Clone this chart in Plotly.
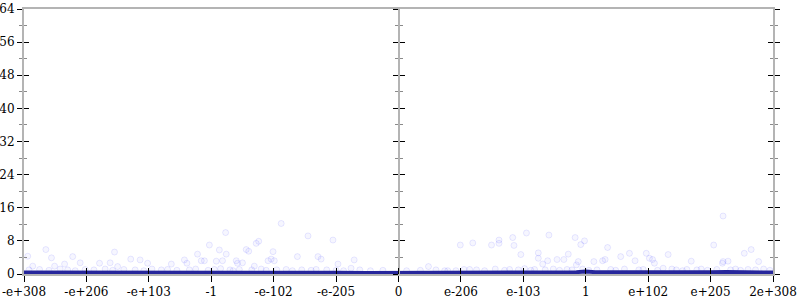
import plotly.graph_objects as go

# x positions are in "tick units" (one unit per labelled tick), y values are the plotted quantity
tick_positions = [-6, -5, -4, -3, -2, -1, 0, 1, 2, 3, 4, 5, 6]
tick_labels = ["-e+308", "-e+206", "-e+103", "-1", "-e-102", "-e-205", "0",
               "e-206", "e-103", "1", "e+102", "e+205", "2e+308"]
y_ticks = [0, 8, 16, 24, 32, 40, 48, 56, 64]

# scattered samples (faint circles)
pts_x = [-5.94, -5.65, -5.56, -5.22, -4.55, -5.10, -4.79, -4.62, -4.29, -4.14, -4.02, -3.64,
         -5.86, -5.51, -5.35, -4.50, -3.22, -1.88, -2.77, -1.45, -1.05, -3.03, -2.87, -2.76,
         -2.28, -2.24, -2.44, -2.40, -2.01, -1.62, -1.29, -1.24, -3.43, -3.39, -3.16, -3.11,
         -2.92, -2.82, -2.60, -2.58, -2.50, -2.09, -2.04, -1.99, -2.31, -0.71, -0.97, -0.76,
         -5.92, -5.75, -5.60, -5.42, -5.30, -5.18, -5.02, -4.88, -4.70, -4.58, -4.40, -4.22,
         -4.08, -3.95, -3.80, -3.70, -3.55, -3.35, -3.25, -3.05, -2.95, -2.85, -2.70, -2.65,
         -2.55, -2.35, -2.20, -2.12, -1.95, -1.80, -1.70, -1.55, -1.40, -1.32, -1.15, -1.00,
         -0.88, -0.62, -0.45, -0.25,
         0.13, 0.48, 0.99, 1.19, 0.74, 0.79, 1.14, 1.38, 1.49, 1.61, 1.61, 1.83, 1.85, 2.05,
         1.96, 2.41, 2.83, 2.98, 2.92, 3.35, 3.70, 2.24, 2.24, 2.72, 2.54, 2.65, 2.39, 2.31,
         2.88, 2.85, 3.13, 3.27, 3.31, 3.56, 3.79, 5.20, 5.05, 5.65, 5.54, 3.97, 4.32, 5.20,
         5.28, 5.77, 4.02, 4.07, 4.69, 5.19, 4.10, 4.24,
         0.35, 0.60, 0.92, 1.05, 1.25, 1.55, 1.70, 1.78, 1.92, 2.02, 2.12, 2.18, 2.35, 2.48,
         2.58, 2.70, 2.78, 2.95, 3.05, 3.18, 3.40, 3.48, 3.62, 3.85, 3.92, 4.15, 4.38, 4.45,
         4.55, 4.62, 4.78, 4.85, 4.95, 5.10, 5.32, 5.40, 5.48, 5.60, 5.72, 5.85, 5.95]
pts_y = [4.3, 5.9, 3.9, 4.2, 5.3, 2.7, 2.6, 2.7, 3.6, 3.4, 2.6, 2.4,
         1.9, 1.9, 2.4, 1.8, 4.8, 12.2, 10.0, 9.2, 8.2, 7.0, 5.8, 4.8,
         7.4, 7.9, 5.9, 5.5, 5.4, 4.2, 4.2, 3.6, 3.4, 2.6, 3.2, 3.2,
         3.1, 3.2, 3.2, 2.6, 2.7, 3.2, 3.6, 3.2, 1.9, 3.4, 2.4, 1.4,
         1.0, 1.1, 0.9, 1.2, 1.0, 0.8, 1.1, 1.0, 1.2, 0.9, 1.1, 1.0,
         0.8, 1.2, 1.0, 1.1, 0.9, 1.0, 1.2, 0.9, 1.1, 1.3, 1.0, 0.8,
         1.1, 1.0, 1.2, 0.9, 1.0, 1.1, 0.8, 1.0, 0.9, 1.1, 1.0, 0.9,
         0.8, 1.0, 0.8, 0.9,
         0.8, 1.8, 7.0, 7.5, 0.8, 0.8, 1.1, 0.8, 7.0, 8.2, 7.4, 8.8, 6.9, 9.9,
         4.7, 9.4, 8.8, 8.0, 7.1, 6.4, 5.0, 5.1, 3.8, 4.8, 3.5, 3.5, 3.2, 2.4,
         3.0, 2.2, 3.0, 3.2, 3.5, 4.2, 3.2, 14.0, 7.0, 5.9, 5.0, 5.0, 4.7, 3.0,
         3.1, 3.0, 3.8, 3.5, 3.1, 2.6, 2.6, 1.4,
         0.9, 1.0, 0.8, 1.1, 1.0, 1.2, 0.9, 1.1, 1.0, 1.3, 0.9, 1.1, 1.0, 1.2,
         0.9, 1.1, 1.0, 1.2, 0.9, 1.0, 1.1, 0.9, 1.2, 1.0, 1.1, 0.9, 1.2, 1.0,
         0.8, 1.1, 1.0, 1.2, 0.9, 1.1, 1.0, 1.2, 0.9, 1.1, 1.0, 1.2, 0.9]

# central summary line
line_x = [-6, -5.5, -5, -4.5, -4, -3.5, -3, -2.75, -2.5, -2.25, -2, -1.5, -1, -0.5, 0,
          0.5, 1, 1.5, 2, 2.5, 2.85, 3.0, 3.15, 3.5, 4, 4.5, 5, 5.25, 5.5, 6]
line_y = [0.35, 0.35, 0.35, 0.35, 0.35, 0.35, 0.4, 0.5, 0.5, 0.45, 0.35, 0.3, 0.3, 0.25, 0.25,
          0.25, 0.3, 0.35, 0.35, 0.4, 0.45, 0.6, 0.45, 0.4, 0.35, 0.35, 0.4, 0.5, 0.4, 0.35]

fig = go.Figure()
fig.add_trace(go.Scatter(
    x=pts_x, y=pts_y, mode="markers",
    marker=dict(size=6, color="rgba(0,0,255,0.035)",
                line=dict(color="rgba(0,0,255,0.09)", width=1)),
    hoverinfo="skip", showlegend=False))
fig.add_trace(go.Scatter(
    x=line_x, y=line_y, mode="lines",
    line=dict(color="rgb(38,38,155)", width=4),
    hoverinfo="skip", showlegend=False))

# invisible helper traces so the overlay axes are drawn
for ya in ["y2", "y3", "y4"]:
    fig.add_trace(go.Scatter(x=[0], y=[0], xaxis="x2" if ya == "y2" else "x",
                             yaxis=ya, mode="markers", marker=dict(opacity=0),
                             hoverinfo="skip", showlegend=False))

axis_grey = "#b4b4b4"
font = dict(family="DejaVu Serif", size=12, color="black")
minor_out = dict(dtick=4, tick0=0, ticks="outside", ticklen=3, tickcolor="#8a8a8a", tickwidth=1)
minor_in = dict(dtick=4, tick0=0, ticks="inside", ticklen=3, tickcolor="#8a8a8a", tickwidth=1)

fig.update_layout(
    width=800, height=300,
    margin=dict(l=24, r=27, t=9, b=26, autoexpand=False),
    paper_bgcolor="white", plot_bgcolor="white",
    font=font,
    xaxis=dict(range=[-6, 6], tickmode="array", tickvals=tick_positions, ticktext=tick_labels,
               ticks="outside", ticklen=6, tickcolor="black", tickwidth=1,
               automargin=False,
               showline=True, linecolor=axis_grey, linewidth=2, mirror=True,
               layer="below traces",
               showgrid=False, zeroline=False, tickfont=font),
    xaxis2=dict(range=[-6, 6], overlaying="x", anchor="y", side="bottom", automargin=False,
                tickmode="array", tickvals=tick_positions, ticks="inside", ticklen=6,
                tickcolor="black", tickwidth=1, showticklabels=False, showline=False,
                showgrid=False, zeroline=False),
    yaxis=dict(range=[0, 64], tickmode="array", tickvals=y_ticks, automargin=False,
               ticks="outside", ticklen=5, tickcolor="black", tickwidth=1,
               minor=minor_out, showline=True, linecolor=axis_grey, linewidth=2,
               mirror="ticks", showgrid=False, zeroline=False, tickfont=font),
    yaxis2=dict(range=[0, 64], overlaying="y", anchor="x2", tickmode="array", tickvals=y_ticks,
                ticks="inside", ticklen=5, tickcolor="black", tickwidth=1, automargin=False,
                minor=minor_in, showline=False, mirror="ticks", showticklabels=False,
                showgrid=False, zeroline=False),
    yaxis3=dict(range=[0, 64], overlaying="y", anchor="free", position=0.5, automargin=False,
                tickmode="array", tickvals=y_ticks, ticks="outside", ticklen=5,
                tickcolor="black", tickwidth=1, minor=minor_out, showline=True,
                linecolor=axis_grey, linewidth=2, showticklabels=False,
                showgrid=False, zeroline=False),
    yaxis4=dict(range=[0, 64], overlaying="y", anchor="free", position=0.5, automargin=False,
                tickmode="array", tickvals=y_ticks, ticks="inside", ticklen=5,
                tickcolor="black", tickwidth=1, minor=minor_in, showline=False,
                showticklabels=False, showgrid=False, zeroline=False),
)

fig.write_html("out.html")
